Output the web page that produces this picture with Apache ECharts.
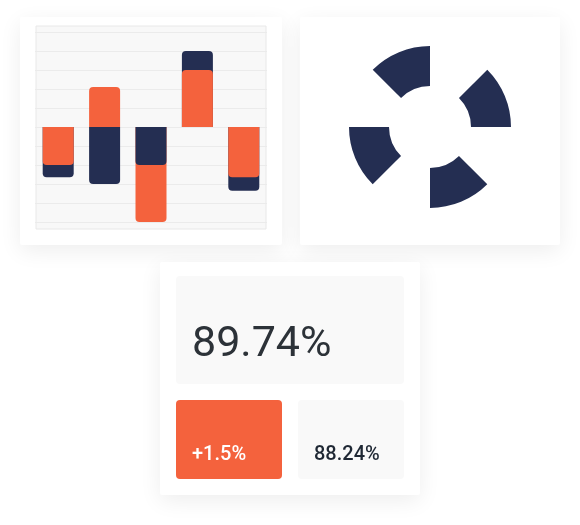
<!DOCTYPE html>
<html>
<head>
<meta charset="utf-8">
<script src="https://cdn.jsdelivr.net/npm/echarts@6/dist/echarts.min.js"></script>
<style>
html,body{margin:0;padding:0;background:#ffffff;}
#main{width:580px;height:525px;}
</style>
</head>
<body>
<div id="main"></div>
<script>
// ---- data ----
const categories = ['1', '2', '3', '4', '5'];
const navyValues = [-2.65, -3, -2, 4, -3.35];
const orangeValues = [-2, 2.1, -5, 3, -2.65];
const ringValues = [1, 1, 1, 1, 1, 1, 1, 1];
const ringFilled = [true, false, true, false, true, false, true, false];
const kpiMain = '89.74%';
const kpiChange = '+1.5%';
const kpiPrevious = '88.24%';

// ---- styles ----
const NAVY = '#242e52';
const ORANGE = '#f4623d';
const FONT = 'Roboto, "Noto Sans", sans-serif';

function layer(front) {
  return categories.map(function (c, i) {
    const n = navyValues[i], o = orangeValues[i];
    const navyFront = Math.abs(n) < Math.abs(o);
    const useNavy = front ? navyFront : !navyFront;
    const v = useNavy ? n : o;
    return {
      value: v,
      itemStyle: { color: useNavy ? NAVY : ORANGE, borderRadius: v >= 0 ? [4, 4, 0, 0] : [0, 0, 4, 4] }
    };
  });
}

const chart = echarts.init(document.getElementById('main'), null, { renderer: 'canvas' });
const cardStyle = { fill: '#ffffff', shadowBlur: 22, shadowColor: 'rgba(0,0,0,0.07)', shadowOffsetY: 6 };

chart.setOption({
  animation: false,
  backgroundColor: '#ffffff',
  grid: { left: 35, right: 313, top: 32, height: 190 },
  xAxis: {
    type: 'category', data: categories,
    axisLine: { show: false }, axisTick: { show: false }, axisLabel: { show: false }, splitLine: { show: false }
  },
  yAxis: {
    type: 'value', min: -5, max: 5, interval: 1,
    axisLine: { show: false }, axisTick: { show: false }, axisLabel: { show: false },
    splitLine: { show: true, lineStyle: { color: '#ebebeb', width: 1 } }
  },
  series: [
    { type: 'bar', data: layer(false), barWidth: 31, barGap: '-100%', z: 2, emphasis: { disabled: true }, silent: true },
    { type: 'bar', data: layer(true), barWidth: 31, barGap: '-100%', z: 3, emphasis: { disabled: true }, silent: true },
    {
      type: 'pie', center: [430, 127], radius: [41, 81], startAngle: 135, clockwise: true,
      label: { show: false }, labelLine: { show: false }, emphasis: { disabled: true }, silent: true,
      data: ringValues.map(function (v, i) {
        return { value: v, itemStyle: { color: ringFilled[i] ? NAVY : 'rgba(0,0,0,0)' } };
      })
    }
  ],
  graphic: [
    { type: 'rect', z: -20, shape: { x: 20, y: 17, width: 262, height: 228, r: 2 }, style: cardStyle },
    { type: 'rect', z: -20, shape: { x: 300, y: 17, width: 260, height: 228, r: 2 }, style: cardStyle },
    { type: 'rect', z: -20, shape: { x: 160, y: 262, width: 260, height: 233, r: 2 }, style: cardStyle },
    { type: 'rect', z: -5, shape: { x: 36, y: 26, width: 230, height: 203 }, style: { fill: '#f8f8f8', stroke: '#e8e8e8', lineWidth: 1 } },
    { type: 'rect', z: -5, shape: { x: 176, y: 276, width: 228, height: 108, r: 4 }, style: { fill: '#f9f9f9' } },
    { type: 'rect', z: -5, shape: { x: 176, y: 400, width: 106, height: 79, r: 4 }, style: { fill: ORANGE } },
    { type: 'rect', z: -5, shape: { x: 298, y: 400, width: 106, height: 79, r: 4 }, style: { fill: '#f9f9f9' } },
    { type: 'text', z: 5, x: 192, y: 345, style: { text: kpiMain, fill: '#2c3238', font: '43px ' + FONT, verticalAlign: 'middle' } },
    { type: 'text', z: 5, x: 192, y: 455, style: { text: kpiChange, fill: '#ffffff', font: '500 20px ' + FONT, verticalAlign: 'middle' } },
    { type: 'text', z: 5, x: 314, y: 455, style: { text: kpiPrevious, fill: '#1f2834', font: '500 20px ' + FONT, verticalAlign: 'middle' } }
  ]
});
</script>
</body>
</html>
